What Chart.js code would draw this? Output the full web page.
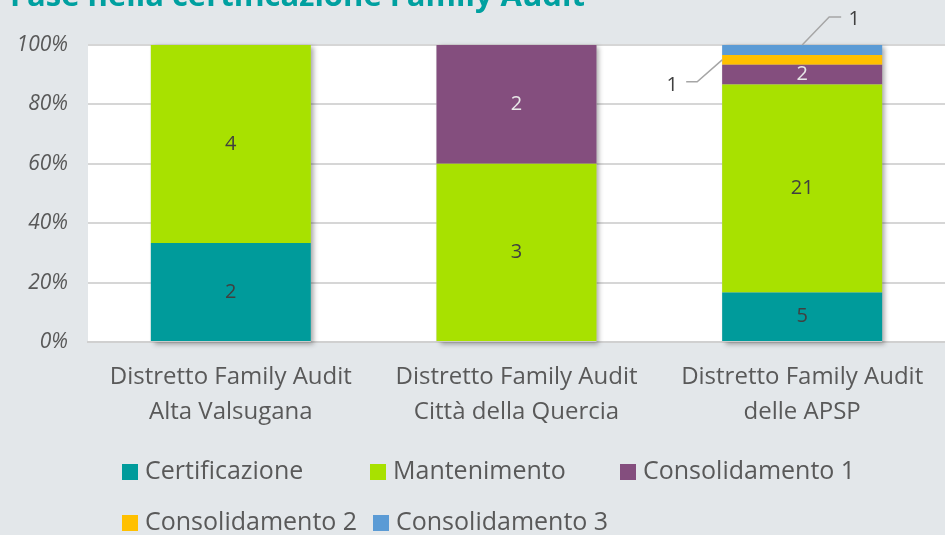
<!DOCTYPE html>
<html lang="it">
<head>
<meta charset="UTF-8">
<title>Fase nella certificazione Family Audit</title>
<script src="https://cdn.jsdelivr.net/npm/chart.js"></script>
<style>
  html, body { margin: 0; padding: 0; background: #e3e7ea; }
  #wrap { width: 945px; height: 535px; position: relative; }
</style>
</head>
<body>
<div id="wrap"><canvas id="chart" width="945" height="535"></canvas></div>
<script>
const titleText = 'Fase nella certificazione Family Audit';
const categories = [
  ['Distretto Family Audit', 'Alta Valsugana'],
  ['Distretto Family Audit', 'Città della Quercia'],
  ['Distretto Family Audit', 'delle APSP']
];
const seriesNames = ['Certificazione', 'Mantenimento', 'Consolidamento 1', 'Consolidamento 2', 'Consolidamento 3'];
const certificazione = [2, 0, 5];
const mantenimento = [4, 3, 21];
const consolidamento1 = [0, 2, 2];
const consolidamento2 = [0, 0, 1];
const consolidamento3 = [0, 0, 1];
const yTicks = [0, 20, 40, 60, 80, 100];

const counts = [certificazione, mantenimento, consolidamento1, consolidamento2, consolidamento3];
const colors = ['#009b9b', '#a8e100', '#844e7e', '#ffc000', '#5b9bd5'];
const labelColors = ['#404040', '#404040', '#e8e8e8', '#404040', '#404040'];
const FONT = '"Open Sans", sans-serif';

// totali per colonna -> percentuali (grafico in pila al 100%)
const totals = categories.map((c, i) => counts.reduce((s, arr) => s + arr[i], 0));
const datasets = counts.map((arr, k) => ({
  label: seriesNames[k],
  data: arr.map((v, i) => v / totals[i] * 100),
  raw: arr,
  backgroundColor: colors[k],
  borderWidth: 0,
  categoryPercentage: 1,
  barPercentage: 0.56
}));

const decorPlugin = {
  id: 'decor',
  beforeDraw(chart) {
    const { ctx, chartArea: a } = chart;
    ctx.save();
    ctx.fillStyle = '#ffffff';
    ctx.fillRect(a.left, a.top, a.right - a.left, a.bottom - a.top);
    // titolo (tagliato in alto come nell'originale)
    ctx.fillStyle = '#00a0a0';
    ctx.font = 'bold 31px ' + FONT;
    ctx.textBaseline = 'alphabetic';
    ctx.textAlign = 'left';
    ctx.fillText(titleText, 10, 6, 578);
    ctx.restore();
  },
  beforeDatasetsDraw(chart) {
    // ombra delle colonne
    const { ctx } = chart;
    const y = chart.scales.y;
    const meta = chart.getDatasetMeta(0);
    ctx.save();
    ctx.shadowColor = 'rgba(0,0,0,0.35)';
    ctx.shadowBlur = 5;
    ctx.shadowOffsetX = 3;
    ctx.shadowOffsetY = 2;
    ctx.fillStyle = '#cccccc';
    meta.data.forEach(el => {
      const top = y.getPixelForValue(100), bottom = y.getPixelForValue(0);
      ctx.fillRect(el.x - el.width / 2, top, el.width, bottom - top);
    });
    ctx.restore();
  },
  afterDatasetsDraw(chart) {
    const { ctx } = chart;
    ctx.save();
    ctx.font = '20px ' + FONT;
    ctx.textAlign = 'center';
    ctx.textBaseline = 'middle';
    chart.data.datasets.forEach((ds, k) => {
      const meta = chart.getDatasetMeta(k);
      meta.data.forEach((el, i) => {
        const v = ds.raw[i];
        if (!v) return;
        const cy = (el.y + el.base) / 2;
        if (k === 3) {
          // etichetta esterna a sinistra con linea guida
          const lx = el.x - el.width / 2;
          ctx.strokeStyle = '#a6a6a6'; ctx.lineWidth = 1.5;
          ctx.beginPath();
          ctx.moveTo(lx, cy); ctx.lineTo(lx - 25, cy + 22); ctx.lineTo(lx - 36, cy + 22);
          ctx.stroke();
          ctx.fillStyle = '#404040';
          ctx.fillText(String(v), lx - 50, cy + 25);
        } else if (k === 4) {
          // etichetta esterna sopra con linea guida
          ctx.strokeStyle = '#a6a6a6'; ctx.lineWidth = 1.5;
          ctx.beginPath();
          ctx.moveTo(el.x, el.y); ctx.lineTo(el.x + 27, el.y - 28); ctx.lineTo(el.x + 39, el.y - 28);
          ctx.stroke();
          ctx.fillStyle = '#404040';
          ctx.fillText(String(v), el.x + 52, el.y - 26);
        } else {
          ctx.fillStyle = labelColors[k];
          ctx.fillText(String(v), el.x, cy);
        }
      });
    });
    ctx.restore();
  },
  afterDraw(chart) {
    // legenda come nell'originale (due righe)
    const { ctx } = chart;
    const slots = [[122, 472], [370, 472], [620, 472], [122, 523], [373, 523]];
    ctx.save();
    ctx.font = '25px ' + FONT;
    ctx.textBaseline = 'middle';
    ctx.textAlign = 'left';
    chart.data.datasets.forEach((ds, k) => {
      const [x, y] = slots[k];
      ctx.fillStyle = ds.backgroundColor;
      ctx.fillRect(x, y - 8, 16, 16);
      ctx.fillStyle = '#595959';
      ctx.fillText(ds.label, x + 23, y);
    });
    ctx.restore();
  }
};

new Chart(document.getElementById('chart'), {
  type: 'bar',
  data: { labels: categories, datasets: datasets },
  options: {
    responsive: false,
    animation: false,
    layout: { padding: { top: 45, right: 0, bottom: 0, left: 0 } },
    plugins: { legend: { display: false }, tooltip: { enabled: false } },
    scales: {
      x: {
        stacked: true,
        grid: { display: false, drawTicks: false },
        border: { display: true, color: '#d0d0d0', width: 2 },
        ticks: { color: '#595959', font: { family: FONT, size: 24, lineHeight: 1.46 }, padding: 18 },
        afterFit(s) { s.height = 193; }
      },
      y: {
        stacked: true,
        min: 0, max: 100,
        afterBuildTicks(s) { s.ticks = yTicks.map(v => ({ value: v })); },
        grid: { color: '#d6d6d6', lineWidth: 2, drawTicks: false },
        border: { display: false },
        ticks: {
          color: '#595959',
          font: { family: FONT, size: 21, style: 'italic' },
          padding: 20,
          callback: v => v + '%'
        },
        afterFit(s) { s.width = 88; }
      }
    }
  },
  plugins: [decorPlugin]
});
</script>
</body>
</html>
